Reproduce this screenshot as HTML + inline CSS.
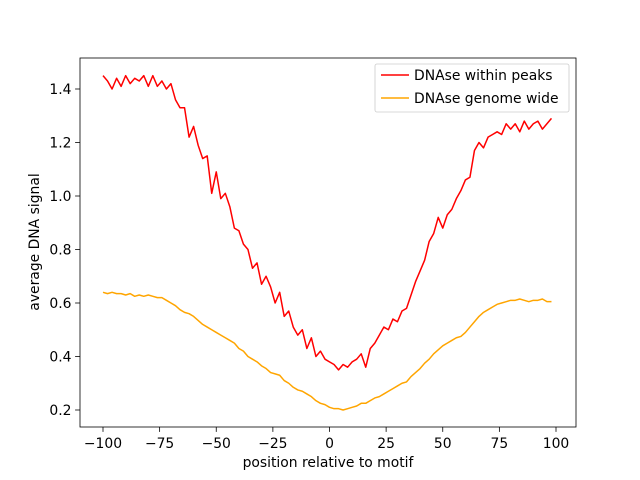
<!DOCTYPE html>
<html><head><meta charset="utf-8"><style>body{margin:0;background:#fff}svg{display:block;font-family:"DejaVu Sans","Liberation Sans",sans-serif}</style></head>
<body>
<svg id="chart" width="640" height="480"></svg>
<script>
const xStart=-100, xStep=2;
const redValues=[1.45,1.43,1.40,1.44,1.41,1.45,1.42,1.44,1.43,1.45,1.41,1.45,1.41,1.43,1.40,1.42,1.36,1.33,1.33,1.22,1.26,1.19,1.14,1.15,1.01,1.09,0.99,1.01,0.96,0.88,0.87,0.82,0.80,0.73,0.75,0.67,0.70,0.66,0.60,0.64,0.55,0.57,0.51,0.48,0.50,0.43,0.47,0.40,0.42,0.39,0.38,0.37,0.35,0.37,0.36,0.38,0.39,0.41,0.36,0.43,0.45,0.48,0.51,0.50,0.54,0.53,0.57,0.58,0.63,0.68,0.72,0.76,0.83,0.86,0.92,0.88,0.93,0.95,0.99,1.02,1.06,1.07,1.17,1.20,1.18,1.22,1.23,1.24,1.23,1.27,1.25,1.27,1.24,1.28,1.25,1.27,1.28,1.25,1.27,1.29];
const orangeValues=[0.64,0.635,0.64,0.635,0.635,0.63,0.635,0.625,0.63,0.625,0.63,0.625,0.62,0.62,0.61,0.60,0.59,0.575,0.565,0.56,0.55,0.535,0.52,0.51,0.50,0.49,0.48,0.47,0.46,0.45,0.43,0.42,0.40,0.39,0.38,0.365,0.355,0.34,0.335,0.33,0.31,0.30,0.285,0.275,0.27,0.26,0.25,0.235,0.225,0.22,0.21,0.205,0.205,0.20,0.205,0.21,0.215,0.225,0.225,0.235,0.245,0.25,0.26,0.27,0.28,0.29,0.30,0.305,0.325,0.34,0.355,0.375,0.39,0.41,0.425,0.44,0.45,0.46,0.47,0.475,0.49,0.51,0.53,0.55,0.565,0.575,0.585,0.595,0.60,0.605,0.61,0.61,0.615,0.61,0.605,0.61,0.61,0.615,0.605,0.605];
const xTicks=[-100,-75,-50,-25,0,25,50,75,100];
const yTicks=[0.2,0.4,0.6,0.8,1.0,1.2,1.4];
const yTickLabels=["0.2","0.4","0.6","0.8","1.0","1.2","1.4"];

const L=80,R=576,T=58,B=427;
const FS=13.9;
const sx=v=>103+(v+100)*2.265;
const sy=v=>410-(v-0.2)*267.5;
const svg=document.getElementById('chart');
const NS='http://www.w3.org/2000/svg';
function mk(tag,attrs,parent){const e=document.createElementNS(NS,tag);for(const k in attrs)e.setAttribute(k,attrs[k]);(parent||svg).appendChild(e);return e;}

function line(vals,color,name){
  const d=vals.map((v,i)=>(i?'L':'M')+sx(xStart+i*xStep).toFixed(2)+','+sy(v).toFixed(2)).join('');
  const p=mk('path',{d:d,fill:'none',stroke:color,'stroke-width':1.5,'stroke-linejoin':'round'});
  
  
}
line(redValues,'#ff0000','series-dnase-within-peaks');
line(orangeValues,'#ffa500','series-dnase-genome-wide');

const frame=mk('rect',{x:L,y:T,width:R-L,height:B-T,fill:'none',stroke:'#000','stroke-width':0.8});



xTicks.forEach(t=>{
  const x=sx(t);
  mk('line',{x1:x,x2:x,y1:B,y2:B+4.9,stroke:'#000','stroke-width':0.8});
  const tx=mk('text',{x:x,y:B+21,'text-anchor':'middle','font-size':FS});
  tx.textContent=(t<0?'\u2212'+(-t):t);
  
  
});
yTicks.forEach((t,i)=>{
  const y=sy(t);
  mk('line',{x1:L,x2:L-4.9,y1:y,y2:y,stroke:'#000','stroke-width':0.8});
  const tx=mk('text',{x:L-8.5,y:y+5,'text-anchor':'end','font-size':FS});
  tx.textContent=yTickLabels[i];
  
  
});
const xt=mk('text',{x:328,y:467,'text-anchor':'middle','font-size':FS});
xt.textContent='position relative to motif';


const yt=mk('text',{x:39,y:242,'text-anchor':'middle','font-size':FS,transform:'rotate(-90 39 242)'});
yt.textContent='average DNA signal';



const lg=mk('g',{});


mk('rect',{x:375,y:64,width:194,height:48,rx:2,fill:'#fff',stroke:'#ccc','stroke-width':0.8},lg);
[['DNAse within peaks','#ff0000',75],['DNAse genome wide','#ffa500',98]].forEach(([lab,c,y])=>{
  const g=mk('g',{},lg);
  
  
  mk('line',{x1:381,x2:409,y1:y,y2:y,stroke:c,'stroke-width':1.5},g);
  const t=mk('text',{x:414,y:y+5,'font-size':FS},g);
  t.textContent=lab;
});
</script>
</body></html>
